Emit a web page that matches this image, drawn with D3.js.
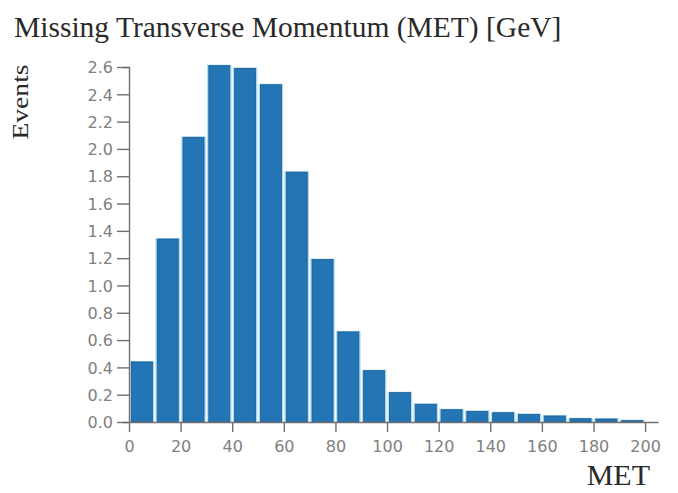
<!DOCTYPE html>
<html><head><meta charset="utf-8">
<script src="https://cdn.jsdelivr.net/npm/d3@7"></script>
<style>
body{margin:0;background:#fff;}
svg{display:block;}
</style></head>
<body>
<svg id="chart" width="678" height="493"></svg>
<script>
const binStarts = [0,10,20,30,40,50,60,70,80,90,100,110,120,130,140,150,160,170,180,190];
const binWidth = 10;
const events = [0.44,1.34,2.085,2.61,2.59,2.47,1.83,1.19,0.66,0.376,0.215,0.13,0.09,0.078,0.068,0.056,0.044,0.024,0.022,0.01];
const xTicks = [0,20,40,60,80,100,120,140,160,180,200];
const yTicks = [0,0.2,0.4,0.6,0.8,1.0,1.2,1.4,1.6,1.8,2.0,2.2,2.4,2.6];
const titleText = "Missing Transverse Momentum (MET) [GeV]";
const yLabel = "Events";
const xLabel = "MET";

const svg = d3.select("#chart");
const x = d3.scaleLinear().domain([0,205]).range([129,658]);
const y = d3.scaleLinear().domain([0,2.6]).range([422,67]);

const gap = 2.4;
// light halo behind bars
svg.append("g").selectAll("rect").data(binStarts).join("rect")
  .attr("x", d => x(d) + 0.6)
  .attr("width", d => x(d+binWidth) - x(d) - 1.2)
  .attr("y", (d,i) => y(events[i]) - 1)
  .attr("height", (d,i) => y(0) - y(events[i]) + 1)
  .attr("fill", "#b3dcf3");
svg.append("g").selectAll("rect").data(binStarts).join("rect")
  .attr("x", d => x(d) + gap)
  .attr("width", d => x(d+binWidth) - x(d) - 2*gap)
  .attr("y", (d,i) => y(events[i]))
  .attr("height", (d,i) => y(0) - y(events[i]))
  .attr("fill", "#2375b6")
  .attr("stroke", "#1c5d8f")
  .attr("stroke-width", 0.8);

const axisColor = "#707070";
const gx = svg.append("g").attr("transform", `translate(0,${y(0)})`)
  .call(d3.axisBottom(x).tickValues(xTicks).tickFormat(d3.format("d")).tickSize(10).tickSizeOuter(0));
const gy = svg.append("g").attr("transform", `translate(${x(0)},0)`)
  .call(d3.axisLeft(y).tickValues(yTicks).tickFormat(d3.format(".1f")).tickSize(12).tickPadding(4).tickSizeOuter(6));
[gx, gy].forEach(g => {
  g.selectAll("path.domain").attr("stroke", axisColor).attr("stroke-width", 1.4);
  g.selectAll(".tick line").attr("stroke", axisColor).attr("stroke-width", 1.4);
  g.selectAll(".tick text").attr("fill", "#808080").attr("font-family", "DejaVu Sans, sans-serif").attr("font-size", 16);
});
gx.selectAll(".tick text").attr("y", 30).attr("dy", 0);
gy.selectAll(".tick text").attr("dy", "0.36em");

svg.append("text").attr("x", 14).attr("y", 37)
  .attr("font-family", "Liberation Serif, Times New Roman, serif").attr("font-size", 29.5)
  .attr("fill", "#2a2a2a").text(titleText);
svg.append("text").attr("transform", "translate(28,102) rotate(-90) scale(1.2,1)")
  .attr("text-anchor", "middle")
  .attr("font-family", "Liberation Serif, Times New Roman, serif").attr("font-size", 23)
  .attr("fill", "#2a2a2a").text(yLabel);
svg.append("text").attr("x", 650).attr("y", 485).attr("text-anchor", "end")
  .attr("font-family", "Liberation Serif, Times New Roman, serif").attr("font-size", 30)
  .attr("fill", "#2a2a2a").text(xLabel);
</script>
</body></html>
